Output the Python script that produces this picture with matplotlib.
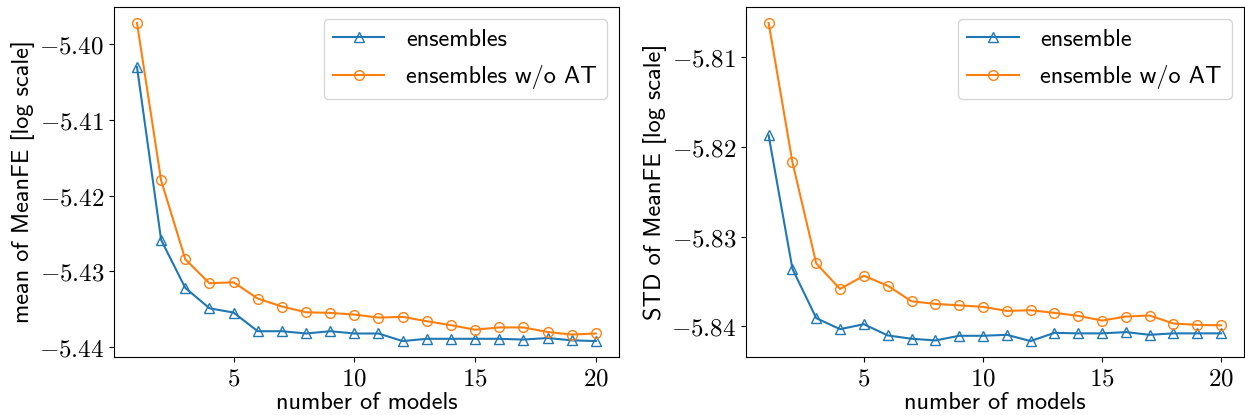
import matplotlib
matplotlib.use("Agg")
import matplotlib.pyplot as plt
from matplotlib.ticker import FuncFormatter, MultipleLocator

plt.rcParams['mathtext.fontset'] = 'cm'
plt.rcParams['axes.unicode_minus'] = True

n_models = list(range(1, 21))

mean_ens = [-5.4030, -5.42585, -5.43218, -5.43487, -5.43544, -5.4379, -5.4379, -5.4382,
            -5.4379, -5.4382, -5.4382, -5.4392, -5.4389, -5.4389, -5.4389, -5.4389,
            -5.4390, -5.4388, -5.4391, -5.4392]
mean_noat = [-5.3972, -5.4180, -5.4284, -5.43157, -5.43144, -5.43359, -5.43464, -5.4354,
             -5.43548, -5.4357, -5.4361, -5.4360, -5.43658, -5.4371, -5.4377, -5.4374,
             -5.4374, -5.4380, -5.43834, -5.4382]

std_ens = [-5.8187, -5.8336, -5.8391, -5.84033, -5.83978, -5.84103, -5.8414, -5.84159,
           -5.84107, -5.84107, -5.84096, -5.84166, -5.84074, -5.8408, -5.8408, -5.84066,
           -5.84096, -5.8408, -5.8408, -5.8408]
std_noat = [-5.80614, -5.8217, -5.8330, -5.83584, -5.83437, -5.83548, -5.83722, -5.83751,
            -5.83767, -5.83784, -5.83829, -5.83822, -5.83851, -5.83884, -5.83937, -5.83892,
            -5.83881, -5.8397, -5.83985, -5.8399]

blue = '#1f77b4'
orange = '#ff7f0e'
FS = 17.5
TICK_FS = 18
sans = 'cmss10'

fig = plt.figure(figsize=(12.45, 4.15), dpi=100)
ax1 = fig.add_axes([0.0916, 0.1398, 0.4054, 0.8434])
ax2 = fig.add_axes([0.5992, 0.1398, 0.3998, 0.8434])

fmt = FuncFormatter(lambda v, p: r'$%.2f$' % v)


def draw(ax, y1, y2, l1, l2, ylabel):
    ax.plot(n_models, y1, color=blue, marker='^', markerfacecolor='none',
            markersize=7, linewidth=1.5, label=l1)
    ax.plot(n_models, y2, color=orange, marker='o', markerfacecolor='none',
            markersize=7, linewidth=1.5, label=l2)
    ax.xaxis.set_major_locator(MultipleLocator(5))
    ax.yaxis.set_major_locator(MultipleLocator(0.01))
    ax.yaxis.set_major_formatter(fmt)
    ax.xaxis.set_major_formatter(FuncFormatter(lambda v, p: r'$%d$' % v))
    ax.tick_params(labelsize=TICK_FS)
    ax.set_xlabel('number of models', fontsize=FS, family=sans, labelpad=1)
    ax.set_ylabel(ylabel, fontsize=FS, family=sans, labelpad=3)
    ax.legend(loc='upper right', prop={'family': sans, 'size': FS},
              handlelength=2.1, handletextpad=0.9, labelspacing=0.6)


draw(ax1, mean_ens, mean_noat, 'ensembles', 'ensembles w/o AT', 'mean of MeanFE [log scale]')
draw(ax2, std_ens, std_noat, 'ensemble', 'ensemble w/o AT', 'STD of MeanFE [log scale]')

fig.savefig('out.png', dpi=100)
